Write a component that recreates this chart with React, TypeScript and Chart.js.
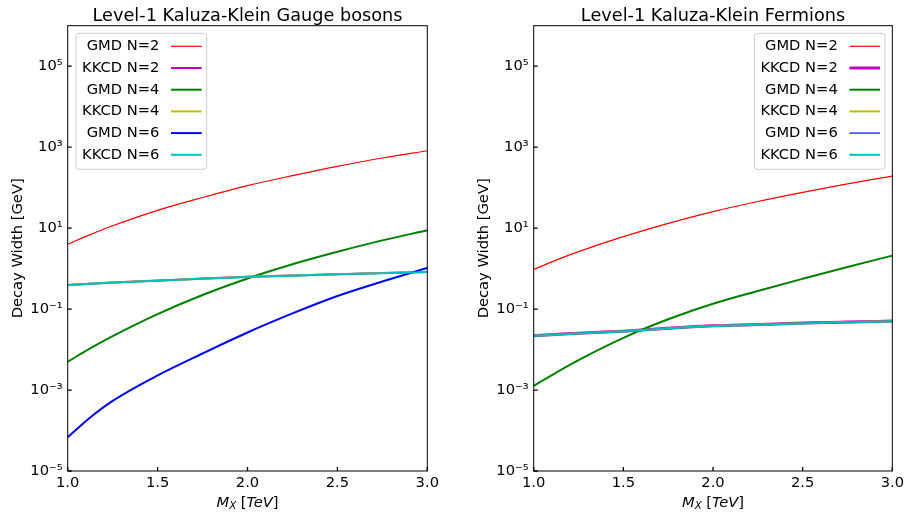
import React, { useEffect, useRef } from "react";
import { Chart, registerables } from "chart.js";

Chart.register(...registerables);

// ---------------- data ----------------
const massTeV = [1.0, 1.125, 1.25, 1.5, 1.75, 2.0, 2.25, 2.5, 2.75, 3.0];
const seriesLabels = ["GMD N=2", "KKCD N=2", "GMD N=4", "KKCD N=4", "GMD N=6", "KKCD N=6"];

// Level-1 KK gauge bosons
const gaugeGMD2 = [4.0, 6.9, 11.4, 27.5, 57, 112, 197, 335, 540, 815];
const gaugeKKCD2 = [0.394, 0.425, 0.455, 0.507, 0.567, 0.628, 0.678, 0.728, 0.778, 0.828];
const gaugeGMD4 = [0.005, 0.0107, 0.0215, 0.075, 0.222, 0.57, 1.28, 2.6, 4.97, 8.83];
const gaugeKKCD4 = [0.392, 0.423, 0.453, 0.504, 0.564, 0.625, 0.675, 0.725, 0.775, 0.825];
const gaugeGMD6 = [6.8e-5, 2.1e-4, 5.4e-4, 0.0023, 0.008, 0.0264, 0.078, 0.21, 0.48, 1.03];
const gaugeKKCD6 = [0.39, 0.42, 0.45, 0.5, 0.56, 0.62, 0.67, 0.72, 0.77, 0.82];

// Level-1 KK fermions
const fermGMD2 = [0.95, 1.62, 2.62, 6.14, 13.1, 25.6, 45.5, 76.4, 124, 192];
const fermKKCD2 = [0.022, 0.0237, 0.0254, 0.0285, 0.0335, 0.0386, 0.0416, 0.045, 0.0478, 0.0505];
const fermGMD4 = [0.00126, 0.0027, 0.0055, 0.0195, 0.056, 0.135, 0.28, 0.56, 1.1, 2.09];
const fermKKCD4 = [0.0218, 0.0235, 0.0252, 0.0283, 0.0333, 0.0383, 0.0413, 0.0446, 0.0474, 0.0501];
const fermGMD6 = [0.0216, 0.0233, 0.025, 0.0281, 0.033, 0.038, 0.041, 0.0443, 0.047, 0.0497];
const fermKKCD6 = [0.0216, 0.0233, 0.025, 0.0281, 0.033, 0.038, 0.041, 0.0443, 0.047, 0.0497];

const xTickValues = [1.0, 1.5, 2.0, 2.5, 3.0];
const xTickLabels = ["1.0", "1.5", "2.0", "2.5", "3.0"];
const yTickValues = [1e-5, 1e-3, 1e-1, 1e1, 1e3, 1e5];
const yTickLabels = ["10⁻⁵", "10⁻³", "10⁻¹", "10¹", "10³", "10⁵"];

const leftTitle = "Level-1 Kaluza-Klein Gauge bosons";
const rightTitle = "Level-1 Kaluza-Klein Fermions";
const yAxisTitle = "Decay Width [GeV]";

// ---------------- styles ----------------
const FONT = "'DejaVu Sans', sans-serif";
const seriesColors = ["#ff0000", "#bf00bf", "#008000", "#bfbf00", "#0000ff", "#00bfbf"];
const leftWidths = [1.2, 2, 2, 2, 2, 2];
const rightWidths = [1.2, 3, 2, 2, 1.2, 2];

function makePlugin(title: string, legendSide: "left" | "right") {
  return {
    id: "mplDecor",
    afterDatasetsDraw(chart: any) {
      const ctx = chart.ctx;
      const a = chart.chartArea;
      const xs = chart.scales.x;
      const ys = chart.scales.y;
      ctx.save();
      ctx.strokeStyle = "#000";
      ctx.lineWidth = 1;
      ctx.strokeRect(a.left, a.top, a.right - a.left, a.bottom - a.top);
      ctx.lineWidth = 1.3;
      ctx.beginPath();
      xTickValues.forEach((v) => {
        const px = xs.getPixelForValue(v);
        ctx.moveTo(px, a.bottom);
        ctx.lineTo(px, a.bottom - 4);
      });
      yTickValues.forEach((v) => {
        const py = ys.getPixelForValue(v);
        ctx.moveTo(a.left, py);
        ctx.lineTo(a.left + 4, py);
      });
      ctx.stroke();
      ctx.restore();
    },
    afterDraw(chart: any) {
      const ctx = chart.ctx;
      const a = chart.chartArea;
      const F = 14.7;
      ctx.save();
      // title
      ctx.fillStyle = "#000";
      ctx.font = `17.7px ${FONT}`;
      ctx.textAlign = "center";
      ctx.textBaseline = "alphabetic";
      ctx.fillText(title, (a.left + a.right) / 2, 20.5);

      // x axis title: M_X [TeV]
      const parts = [
        { t: "M", font: `italic ${F}px ${FONT}`, dy: 0 },
        { t: "X", font: `italic ${F * 0.7}px ${FONT}`, dy: 2.8 },
        { t: " [", font: `${F}px ${FONT}`, dy: 0 },
        { t: "TeV", font: `italic ${F}px ${FONT}`, dy: 0 },
        { t: "]", font: `${F}px ${FONT}`, dy: 0 },
      ];
      let total = 0;
      const widths = parts.map((p) => {
        ctx.font = p.font;
        const w = ctx.measureText(p.t).width;
        total += w;
        return w;
      });
      let cx = (a.left + a.right) / 2 - total / 2;
      ctx.textAlign = "left";
      parts.forEach((p, i) => {
        ctx.font = p.font;
        ctx.fillText(p.t, cx, 506.5 + p.dy);
        cx += widths[i];
      });

      // legend
      ctx.font = `${F}px ${FONT}`;
      const dsets = chart.data.datasets;
      let maxW = 0;
      dsets.forEach((d: any) => {
        maxW = Math.max(maxW, ctx.measureText(d.label).width);
      });
      const boxW = 6 + maxW + 11.7 + 30.6 + 5;
      const boxH = 136;
      const bx = legendSide === "left" ? a.left + 8.3 : a.right - 7.3 - boxW;
      const by = a.top + 7.6;
      const r = 3;
      ctx.beginPath();
      ctx.moveTo(bx + r, by);
      ctx.lineTo(bx + boxW - r, by);
      ctx.arcTo(bx + boxW, by, bx + boxW, by + r, r);
      ctx.lineTo(bx + boxW, by + boxH - r);
      ctx.arcTo(bx + boxW, by + boxH, bx + boxW - r, by + boxH, r);
      ctx.lineTo(bx + r, by + boxH);
      ctx.arcTo(bx, by + boxH, bx, by + boxH - r, r);
      ctx.lineTo(bx, by + r);
      ctx.arcTo(bx, by, bx + r, by, r);
      ctx.closePath();
      ctx.fillStyle = "rgba(255,255,255,0.8)";
      ctx.fill();
      ctx.strokeStyle = "#cccccc";
      ctx.lineWidth = 1;
      ctx.stroke();
      const textRight = bx + 6 + maxW;
      dsets.forEach((d: any, i: number) => {
        const cy = by + 13 + i * 21.7;
        ctx.fillStyle = "#000";
        ctx.textAlign = "right";
        ctx.textBaseline = "middle";
        ctx.fillText(d.label, textRight, cy);
        ctx.strokeStyle = d.borderColor;
        ctx.lineWidth = d.borderWidth;
        ctx.beginPath();
        ctx.moveTo(textRight + 11.7, cy);
        ctx.lineTo(textRight + 11.7 + 30.6, cy);
        ctx.stroke();
      });
      ctx.restore();
    },
  };
}

function makeConfig(
  title: string,
  series: number[][],
  widths: number[],
  legendSide: "left" | "right",
  padRight: number
): any {
  const datasets = series.map((vals, i) => ({
    label: seriesLabels[i],
    data: massTeV.map((x, j) => ({ x, y: vals[j] })),
    borderColor: seriesColors[i],
    backgroundColor: seriesColors[i],
    borderWidth: widths[i],
    pointRadius: 0,
    fill: false,
    cubicInterpolationMode: "monotone",
    order: series.length - 1 - i,
  }));
  return {
    type: "line",
    data: { datasets },
    options: {
      animation: false,
      responsive: false,
      devicePixelRatio: 1,
      layout: { padding: { left: 0, right: padRight, top: 25.7, bottom: 0 } },
      plugins: { legend: { display: false }, tooltip: { enabled: false }, title: { display: false } },
      scales: {
        x: {
          type: "linear",
          min: 1,
          max: 3,
          afterBuildTicks: (s: any) => {
            s.ticks = xTickValues.map((v) => ({ value: v }));
          },
          afterFit: (s: any) => {
            s.height = 44;
          },
          ticks: {
            callback: (_v: any, i: number) => xTickLabels[i],
            font: { family: FONT, size: 14.7 },
            color: "#000",
            padding: 3,
            autoSkip: false,
            maxRotation: 0,
          },
          grid: { display: false, drawTicks: false },
          border: { display: false },
        },
        y: {
          type: "logarithmic",
          min: 1e-5,
          max: 1e6,
          afterBuildTicks: (s: any) => {
            s.ticks = yTickValues.map((v) => ({ value: v }));
          },
          afterFit: (s: any) => {
            s.width = 67.7;
          },
          ticks: {
            callback: (_v: any, i: number) => yTickLabels[i],
            font: { family: FONT, size: 14.7 },
            color: "#000",
            padding: 5,
            autoSkip: false,
            maxRotation: 0,
          },
          grid: { display: false, drawTicks: false },
          border: { display: false },
          title: {
            display: true,
            text: yAxisTitle,
            font: { family: FONT, size: 14.7 },
            color: "#000",
            padding: { top: 9, bottom: 0 },
          },
        },
      },
    },
    plugins: [makePlugin(title, legendSide)],
  };
}

export default function App() {
  const leftRef = useRef<HTMLCanvasElement>(null);
  const rightRef = useRef<HTMLCanvasElement>(null);

  useEffect(() => {
    const c1 = new Chart(
      leftRef.current as HTMLCanvasElement,
      makeConfig(
        leftTitle,
        [gaugeGMD2, gaugeKKCD2, gaugeGMD4, gaugeKKCD4, gaugeGMD6, gaugeKKCD6],
        leftWidths,
        "left",
        38.7
      )
    );
    const c2 = new Chart(
      rightRef.current as HTMLCanvasElement,
      makeConfig(
        rightTitle,
        [fermGMD2, fermKKCD2, fermGMD4, fermKKCD4, fermGMD6, fermKKCD6],
        rightWidths,
        "right",
        13.7
      )
    );
    return () => {
      c1.destroy();
      c2.destroy();
    };
  }, []);

  return (
    <div style={{ position: "fixed", left: 0, top: 0, width: 907, height: 515, background: "#fff" }}>
      <canvas
        ref={leftRef}
        width={466}
        height={515}
        style={{ position: "absolute", left: 0, top: 0, width: 466, height: 515 }}
      />
      <canvas
        ref={rightRef}
        width={441}
        height={515}
        style={{ position: "absolute", left: 466, top: 0, width: 441, height: 515 }}
      />
    </div>
  );
}
